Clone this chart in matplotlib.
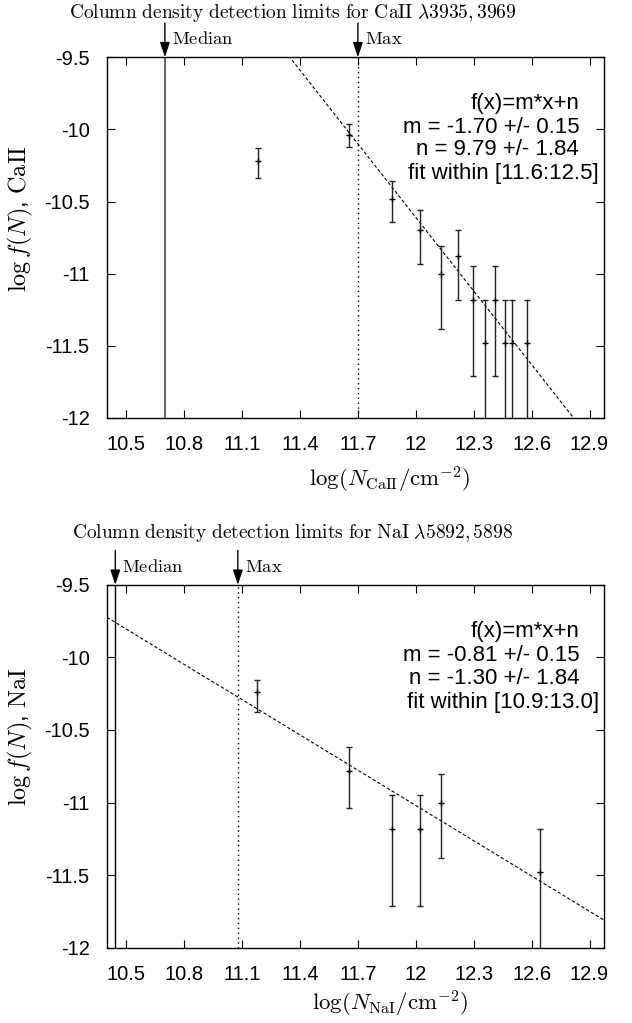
import matplotlib
matplotlib.use("Agg")
import matplotlib.pyplot as plt
from matplotlib.ticker import FuncFormatter
import numpy as np

plt.rcParams['font.family'] = ['Liberation Sans', 'DejaVu Sans']
plt.rcParams['mathtext.fontset'] = 'cm'
plt.rcParams['axes.unicode_minus'] = False

# ---- data: CaII panel ----
ca_x = [11.18, 11.655, 11.877, 12.022, 12.133, 12.218, 12.294, 12.356, 12.408, 12.46, 12.50, 12.576]
ca_y = [-10.22, -10.04, -10.48, -10.70, -11.00, -10.88, -11.18, -11.48, -11.18, -11.48, -11.48, -11.48]
ca_hi = [-10.13, -9.96, -10.36, -10.555, -10.805, -10.70, -10.95, -11.18, -10.95, -11.18, -11.18, -11.18]
ca_lo = [-10.34, -10.12, -10.645, -10.93, -11.38, -11.18, -11.71, -13.0, -11.71, -13.0, -13.0, -13.0]
ca_median = 10.70
ca_max = 11.70
ca_m, ca_n = -1.70, 9.79
ca_text = ["f(x)=m*x+n", "m = -1.70 +/- 0.15", "n = 9.79 +/- 1.84", "fit within [11.6:12.5]"]

# ---- data: NaI panel ----
na_x = [11.178, 11.654, 11.875, 12.022, 12.131, 12.642]
na_y = [-10.24, -10.78, -11.18, -11.18, -11.00, -11.48]
na_hi = [-10.155, -10.62, -10.945, -10.945, -10.805, -11.18]
na_lo = [-10.375, -11.04, -11.71, -11.71, -11.38, -13.0]
na_median = 10.443
na_max = 11.078
na_m, na_n = -0.81, -1.30
na_text = ["f(x)=m*x+n", "m = -0.81 +/- 0.15", "n = -1.30 +/- 1.84", "fit within [10.9:13.0]"]

xticks = [10.5, 10.8, 11.1, 11.4, 11.7, 12.0, 12.3, 12.6, 12.9]
yticks = [-9.5, -10, -10.5, -11, -11.5, -12]
xlim = (10.4, 12.975)
ylim = (-12, -9.5)

fig = plt.figure(figsize=(6.32, 10.23), dpi=100)

def panel(rect, x, y, hi, lo, med, mx, m, n, texts, title, title_pos, ylabel, ylab_y,
          xlabel, xlab_y, medcolor, medlw):
    ax = fig.add_axes(rect)
    x = np.array(x); y = np.array(y)
    yerr = np.vstack([y - np.array(lo), np.array(hi) - y])
    ax.errorbar(x, y, yerr=yerr, fmt='+', color='black', ecolor='#222222',
                elinewidth=1.0, capsize=2.5, capthick=1.0, markersize=5, mew=1.0, zorder=3)
    xs = np.array(xlim)
    ax.plot(xs, m * xs + n, color='black', lw=0.8, ls=(0, (3, 2)), zorder=2)
    ax.axvline(med, color=medcolor, lw=medlw, zorder=1)
    ax.axvline(mx, color='black', lw=1.0, ls=(0, (1, 2.5)), zorder=1)
    ax.set_xlim(*xlim); ax.set_ylim(*ylim)
    ax.set_xticks(xticks); ax.set_yticks(yticks)
    ax.xaxis.set_major_formatter(FuncFormatter(lambda v, p: '%g' % round(v, 2)))
    ax.yaxis.set_major_formatter(FuncFormatter(lambda v, p: '%g' % round(v, 2)))
    ax.tick_params(direction='in', top=True, right=True, length=6, width=0.8,
                   labelsize=14.5, pad=12.5)
    for s in ax.spines.values():
        s.set_linewidth(1.0)
    # arrows
    for xv, lab in [(med, 'Median'), (mx, 'Max')]:
        ax.annotate('', xy=(xv, 1.0), xycoords=('data', 'axes fraction'),
                    xytext=(xv, 1.095), textcoords=('data', 'axes fraction'),
                    arrowprops=dict(arrowstyle='-|>,head_length=0.9,head_width=0.3',
                                    color='black', lw=1.0, shrinkA=0, shrinkB=0))
        ax.annotate(r'$\mathrm{%s}$' % lab, xy=(xv, 1.048), xycoords=('data', 'axes fraction'),
                    xytext=(5, 0), textcoords='offset points', ha='left', va='center',
                    fontsize=13.3)
    # fit text
    ys = [0.8725, 0.806, 0.743, 0.677]
    xr = [0.95, 0.95, 0.95, 0.99]
    for t, yy, xx in zip(texts, ys, xr):
        ax.text(xx, yy, t, transform=ax.transAxes, ha='right', va='center', fontsize=16)
    ax.text(title_pos[0], title_pos[1], title, transform=ax.transAxes, ha='left',
            va='center', fontsize=14)
    ax.set_ylabel(ylabel, fontsize=17.5)
    ax.yaxis.label.set_va('center')
    ax.yaxis.set_label_coords(-0.175, ylab_y)
    ax.set_xlabel(xlabel, fontsize=16.5)
    ax.xaxis.label.set_va('center')
    ax.xaxis.set_label_coords(0.569, xlab_y)
    return ax

panel([0.1693, 0.5914, 0.7864, 0.3526], ca_x, ca_y, ca_hi, ca_lo, ca_median, ca_max, ca_m, ca_n,
      ca_text, r'$\mathrm{Column\ density\ detection\ limits\ for\ CaII}\ \lambda3935,3969$',
      (-0.076, 1.124),
      r'$\log f(N)$, $\mathrm{CaII}$', 0.552,
      r'$\log(N_{\mathrm{CaII}}/\mathrm{cm}^{-2})$', -0.172, '#555555', 1.3)
panel([0.1693, 0.0736, 0.7864, 0.3547], na_x, na_y, na_hi, na_lo, na_median, na_max, na_m, na_n,
      na_text, r'$\mathrm{Column\ density\ detection\ limits\ for\ NaI}\ \lambda5892,5898$',
      (-0.07, 1.143),
      r'$\log f(N)$, $\mathrm{NaI}$', 0.583,
      r'$\log(N_{\mathrm{NaI}}/\mathrm{cm}^{-2})$', -0.155, 'black', 1.0)

fig.savefig('out.png', dpi=100)
